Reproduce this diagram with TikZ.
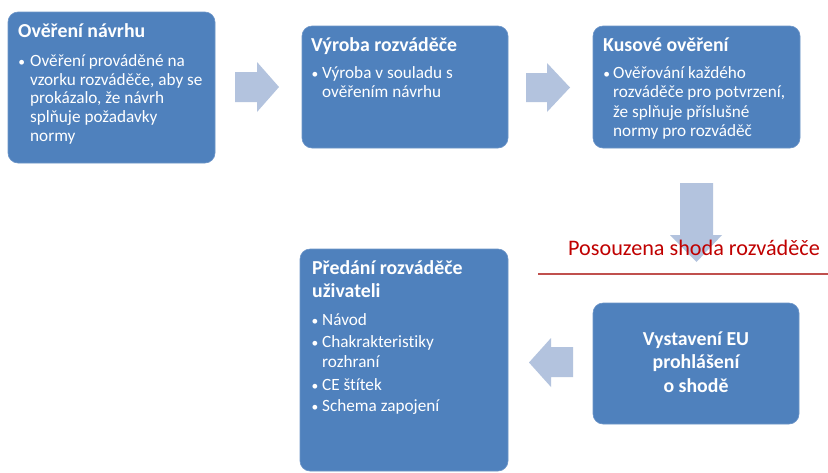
\documentclass[tikz,border=0pt]{standalone}
\usepackage{fontspec}
\setmainfont{Carlito}[Ligatures=NoCommon]
\definecolor{boxblue}{HTML}{4F81BD}
\definecolor{boxedge}{HTML}{6D95C8}
\definecolor{arrowblue}{HTML}{B3C3DE}
\definecolor{redtext}{HTML}{C00000}
\definecolor{redline}{HTML}{C0504D}
\begin{document}
\begin{tikzpicture}[x=1pt,y=-1pt,
  box/.style={draw=boxedge, line width=0.6pt, fill=boxblue, rounded corners=10pt, inner sep=0pt},
  blockarrow/.style={fill=arrowblue},
  ttl/.style={text=white, font=\fontsize{19.8}{24}\selectfont\bfseries, inner sep=0pt},
  txt/.style={text=white, font=\fontsize{17.2}{20}\selectfont, inner sep=0pt},
  bul/.style={text=white, font=\fontsize{13.5}{16}\selectfont, inner sep=0pt},
  redlabel/.style={text=redtext, font=\fontsize{22.2}{26}\selectfont, inner sep=0pt}]
\useasboundingbox (0,0) rectangle (828,472);
\fill[white] (0,0) rectangle (828,472);

% boxes
\node[box, minimum width=207pt, minimum height=151pt] (b1) at (111.5,87.5) {};
\node[box, minimum width=206pt, minimum height=122pt] (b2) at (405,87) {};
\node[box, minimum width=207pt, minimum height=122pt] (b3) at (696.5,87) {};
\node[box, minimum width=206pt, minimum height=121pt] (b4) at (696,363.5) {};
\node[box, minimum width=208pt, minimum height=222pt] (b5) at (404,360) {};

% block arrows
\fill[blockarrow] (235,72) -- (257,72) -- (257,62) -- (279,87) -- (257,112) -- (257,102) -- (235,102) -- cycle;
\fill[blockarrow] (526,73) -- (547,73) -- (547,63) -- (570,87.5) -- (547,112) -- (547,102) -- (526,102) -- cycle;
\fill[blockarrow] (680,183) -- (713,183) -- (713,235) -- (722,235) -- (696.5,262) -- (670,235) -- (680,235) -- cycle;
\fill[blockarrow] (573,347) -- (551,347) -- (551,338) -- (529,362.5) -- (551,387) -- (551,377) -- (573,377) -- cycle;

% box 1
\node[ttl, anchor=base west] (t1) at (18,37) {Ověření návrhu};
\node[bul, anchor=base] (u1) at (21.7,66.7) {•};
\foreach \t [count=\i] in {Ověření prováděné na, {vzorku rozváděče, aby se}, {prokázalo, že návrh}, splňuje požadavky, normy}
  \node[txt, anchor=base west] (b1l\i) at (30,{66.7+18.6*(\i-1)}) {\t};

% box 2
\node[ttl, anchor=base west] (t2) at (311,51) {Výroba rozváděče};
\node[bul, anchor=base] (u2) at (315,78) {•};
\foreach \t [count=\i] in {Výroba v souladu s, ověřením návrhu}
  \node[txt, anchor=base west] (b2l\i) at (322,{78+19.6*(\i-1)}) {\t};

% box 3
\node[ttl, anchor=base west] (t3) at (603,51) {Kusové ověření};
\node[bul, anchor=base] (u3) at (606.7,78) {•};
\foreach \t [count=\i] in {Ověřování každého, {rozváděče pro potvrzení,}, že splňuje příslušné, normy pro rozváděč}
  \node[txt, anchor=base west] (b3l\i) at (613,{78+19.6*(\i-1)}) {\t};

% box 4
\foreach \t [count=\i] in {Vystavení EU, prohlášení, o shodě}
  \node[ttl, anchor=base] (b4l\i) at (696,{345+23.5*(\i-1)}) {\t};

% box 5
\node[ttl, anchor=base west] (t5a) at (312,274) {Předání rozváděče};
\node[ttl, anchor=base west] (t5b) at (312,297) {uživateli};
\node[bul, anchor=base] (u5a) at (315,325) {•};
\node[txt, anchor=base west] (b5l1) at (322,325) {Návod};
\node[bul, anchor=base] (u5b) at (315,347) {•};
\node[txt, anchor=base west] (b5l2) at (322,347) {Chakrakteristiky};
\node[txt, anchor=base west] (b5l3) at (322,367) {rozhraní};
\node[bul, anchor=base] (u5c) at (315,390) {•};
\node[txt, anchor=base west] (b5l4) at (322,390) {CE štítek};
\node[bul, anchor=base] (u5d) at (315,411) {•};
\node[txt, anchor=base west] (b5l5) at (322,411) {Schema zapojení};

% red label and line
\node[redlabel, anchor=base west] (shoda) at (568,255) {Posouzena shoda rozváděče};
\coordinate (rl1) at (538,273.5);
\coordinate (rl2) at (828,273.5);
\draw[redline, line width=2pt] (rl1) -- (rl2);
\end{tikzpicture}
\end{document}
